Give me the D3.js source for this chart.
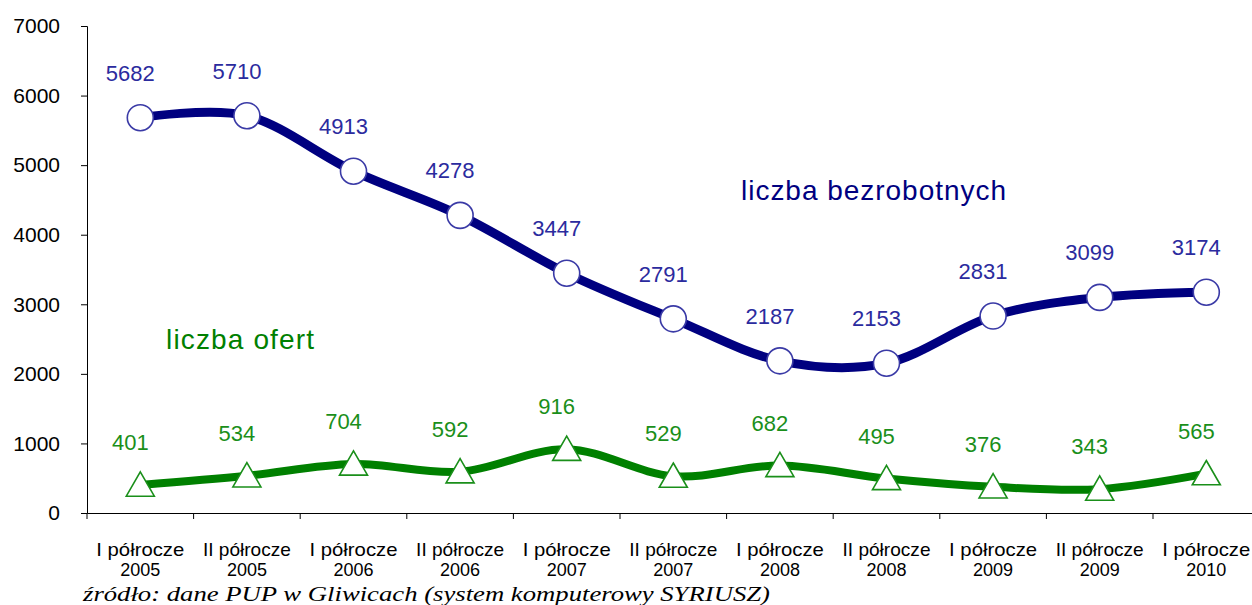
<!DOCTYPE html>
<html><head><meta charset="utf-8">
<script src="https://cdn.jsdelivr.net/npm/d3@7"></script>
<style>body{margin:0;background:#fff}svg{display:block}</style>
</head><body>
<svg id="c" width="1252" height="605"></svg>
<script>
const halves = ["I półrocze","II półrocze","I półrocze","II półrocze","I półrocze","II półrocze","I półrocze","II półrocze","I półrocze","II półrocze","I półrocze"];
const years = ["2005","2005","2006","2006","2007","2007","2008","2008","2009","2009","2010"];
const bezrobotni = [5682,5710,4913,4278,3447,2791,2187,2153,2831,3099,3174];
const oferty = [401,534,704,592,916,529,682,495,376,343,565];
const yTicks = [0,1000,2000,3000,4000,5000,6000,7000];

const svg = d3.select("#c");
const x0 = 87, x1 = 87 + 106.6*11;
const x = d3.scaleBand().domain(d3.range(11)).range([x0, x1]);
const y = d3.scaleLinear().domain([0,7000]).range([513, 26]);
const cx = i => x(i) + x.bandwidth()/2;

// axes
const ya = svg.append("g").attr("transform",`translate(${x0},0)`)
  .call(d3.axisLeft(y).tickValues(yTicks).tickSize(6).tickPadding(21).tickFormat(d3.format("d")));
ya.selectAll("text").attr("font-family","Liberation Sans, Arial, sans-serif").attr("font-size",21).attr("fill","#000");
ya.select(".domain").attr("stroke","#000");
const xa = svg.append("g").attr("transform",`translate(0,${y(0)})`)
  .call(d3.axisBottom(x).tickValues([]).tickSizeOuter(0));
xa.select(".domain").attr("stroke","#000");
svg.append("g").selectAll("line").data(d3.range(11)).join("line")
  .attr("x1",i=>x(i)).attr("x2",i=>x(i)).attr("y1",y(0)).attr("y2",y(0)+6).attr("stroke","#000");
const cat = svg.append("g").attr("font-family","Liberation Sans, Arial, sans-serif").attr("fill","#000").attr("text-anchor","middle");
cat.selectAll("text.h").data(halves).join("text").attr("class","h").attr("font-size",19)
  .attr("x",(d,i)=>cx(i)).attr("y",556).attr("textLength",88).attr("lengthAdjust","spacingAndGlyphs").text(d=>d);
cat.selectAll("text.yr").data(years).join("text").attr("class","yr").attr("font-size",18)
  .attr("x",(d,i)=>cx(i)).attr("y",576).text(d=>d);

// lines
const line = d3.line().x((d,i)=>cx(i)).y(d=>y(d)).curve(d3.curveCatmullRom.alpha(0));
svg.append("path").datum(oferty).attr("d",line).attr("fill","none").attr("stroke","#008000").attr("stroke-width",8);
svg.append("path").datum(bezrobotni).attr("d",line).attr("fill","none").attr("stroke","#000080").attr("stroke-width",9);

// markers
svg.append("g").selectAll("circle").data(bezrobotni).join("circle")
  .attr("cx",(d,i)=>cx(i)).attr("cy",d=>y(d)).attr("r",13)
  .attr("fill","#fff").attr("stroke","#3a3aa6").attr("stroke-width",1.6);
const tri = d3.symbol().type(d3.symbolTriangle).size(340);
svg.append("g").selectAll("path").data(oferty).join("path")
  .attr("transform",(d,i)=>`translate(${cx(i)},${y(d)+3})`).attr("d",tri)
  .attr("fill","#fff").attr("stroke","#1a8f1a").attr("stroke-width",1.6);

// value labels
svg.append("g").attr("font-family","Liberation Sans, Arial, sans-serif").attr("font-size",22).attr("fill","#2b2b9e").attr("text-anchor","middle")
  .selectAll("text").data(bezrobotni).join("text")
  .attr("x",(d,i)=>cx(i)-10).attr("y",d=>y(d)-37).text(d=>d);
svg.append("g").attr("font-family","Liberation Sans, Arial, sans-serif").attr("font-size",22).attr("fill","#1a8f1a").attr("text-anchor","middle")
  .selectAll("text").data(oferty).join("text")
  .attr("x",(d,i)=>cx(i)-10).attr("y",d=>y(d)-35).text(d=>d);

// series labels
svg.append("text").attr("x",741).attr("y",200).attr("font-family","Liberation Sans, Arial, sans-serif")
  .attr("font-size",28).attr("fill","#000080").attr("textLength",265).attr("lengthAdjust","spacing").text("liczba bezrobotnych");
svg.append("text").attr("x",166).attr("y",349).attr("font-family","Liberation Sans, Arial, sans-serif")
  .attr("font-size",28).attr("fill","#008000").attr("textLength",148).attr("lengthAdjust","spacing").text("liczba ofert");

// source
svg.append("text").attr("x",83).attr("y",601).attr("font-family","Liberation Serif, Times New Roman, serif")
  .attr("font-style","italic").attr("font-size",21).attr("fill","#000").attr("textLength",687).attr("lengthAdjust","spacingAndGlyphs")
  .text("źródło: dane PUP w Gliwicach (system komputerowy SYRIUSZ)");
</script>
</body></html>
